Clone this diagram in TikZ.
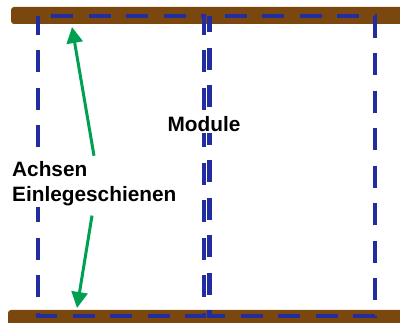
\documentclass[tikz,border=0pt]{standalone}
\usepackage{fontspec}
\setmainfont{Liberation Sans}
\usetikzlibrary{arrows.meta}
\definecolor{rail}{RGB}{122,72,14}
\definecolor{modblue}{RGB}{34,46,160}
\definecolor{arrgreen}{RGB}{0,160,82}
\tikzset{
  railbar/.style={fill=rail, draw=none, rounded corners=3pt},
  modline/.style={draw=modblue, line width=4.8pt, dash pattern=on 22pt off 15.5pt},
  lbltext/.style={font=\fontsize{20.8}{25}\selectfont\bfseries, inner sep=1pt, fill=white, align=left},
  greenarr/.style={draw=arrgreen, line width=3pt, -{Triangle[length=16pt,width=16pt]}}
}
\begin{document}
\begin{tikzpicture}[x=1pt,y=-1pt]
\useasboundingbox (0,0) rectangle (400,323);
% rails
\fill[railbar] (11,7) rectangle (410,24);
\fill[railbar] (8,310) rectangle (410,330);
% modules
\draw[modline, dash phase=24.5pt] (38,16) -- (204,16) -- (204,316) -- (38,316) -- cycle;
\draw[modline, dash phase=22pt] (209.2,16) -- (375,16) -- (375,316) -- (209.2,316) -- cycle;
% labels
\node[lbltext, anchor=base west] (lbl) at (11,202) {Achsen\\Einlegeschienen};
\node[lbltext, anchor=base] (mod) at (204,132) {Module};
% arrows
\coordinate (tiptop) at (72,27);
\coordinate (tipbot) at (77,308);
\draw[greenarr] ([xshift=83pt,yshift=5pt]lbl.north west) -- (tiptop);
\draw[greenarr] ([xshift=81pt,yshift=-8pt]lbl.south west) -- (tipbot);
\end{tikzpicture}
\end{document}
